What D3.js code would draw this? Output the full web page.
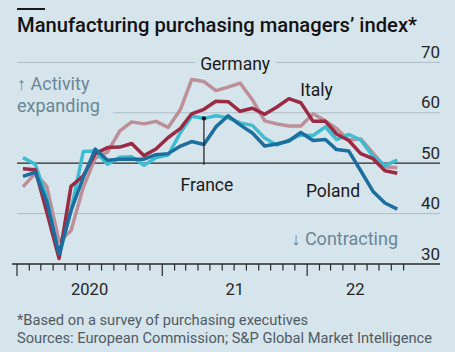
<!DOCTYPE html>
<html><head><meta charset="utf-8">
<script src="https://cdn.jsdelivr.net/npm/d3@7"></script>
<style>
html,body{margin:0;padding:0;background:#d6e4ec;}
svg{display:block;}
text{font-family:Roboto,"Noto Sans",sans-serif;}
</style></head>
<body>
<svg id="c" width="455" height="352"></svg>
<script>
// Monthly data, Jan 2020 – Aug 2022
const startMonth = "2020-01";
const germany = [45.3,48.0,45.4,34.5,36.6,45.2,51.0,52.2,56.4,58.2,57.8,58.3,
                 57.1,60.7,66.6,66.2,64.4,65.1,65.9,62.6,58.4,57.8,57.4,57.4,
                 59.8,58.4,56.9,54.6,54.8,52.0,49.3,49.1];
const italy   = [48.9,48.7,40.3,31.1,45.4,47.5,51.9,53.1,53.2,53.9,51.5,52.8,
                 55.1,56.9,59.8,60.7,62.3,62.2,60.3,60.9,59.7,61.1,62.8,62.0,
                 58.3,58.3,55.8,54.5,51.9,50.9,48.5,48.0];
const france  = [51.1,49.8,43.2,31.5,40.6,52.3,52.4,49.8,51.2,51.3,49.6,51.1,
                 51.6,56.1,59.3,58.9,59.4,59.0,58.0,57.5,55.0,53.6,54.6,55.6,
                 55.5,57.2,54.7,55.7,54.6,51.4,49.5,50.6];
const poland  = [47.4,48.2,42.4,31.9,40.6,47.2,52.8,50.6,50.8,50.8,50.8,51.7,
                 51.9,53.4,54.3,53.7,57.2,59.4,57.6,56.0,53.4,53.8,54.4,56.1,
                 54.5,54.7,52.7,52.4,48.5,44.4,42.1,40.9];
const yTicks = [30,40,50,60,70];
const yearLabels = [{label:"2020", from:"2020-01", to:"2021-01"},
                    {label:"21", from:"2021-01", to:"2022-01"},
                    {label:"22", from:"2022-01", to:"2022-09"}];

const svg = d3.select("#c");
const BG = "#d6e4ec";
const parseM = d3.timeParse("%Y-%m");
const t0 = parseM(startMonth);
const monthDate = i => new Date(t0.getFullYear(), t0.getMonth()+i, 16);

const x = d3.scaleTime().domain([parseM("2020-01"), parseM("2022-09")]).range([17, 403.6]);
const y = d3.scaleLinear().domain([30,70]).range([264, 62.4]);
const gridL = 17, gridR = 440;

// title
svg.append("rect").attr("x",17).attr("y",8).attr("width",28).attr("height",2).attr("fill","#1a1a1a");
svg.append("text").attr("x",17).attr("y",31.5).attr("font-size",20).attr("font-weight",500)
  .attr("fill","#121212").attr("textLength",400).attr("lengthAdjust","spacingAndGlyphs")
  .text("Manufacturing purchasing managers’ index*");

// gridlines
svg.append("g").selectAll("line").data(yTicks.filter(d=>d!==30)).join("line")
  .attr("x1",gridL).attr("x2",gridR).attr("y1",d=>y(d)).attr("y2",d=>y(d))
  .attr("stroke",d=>d===50?"#2a2a2a":"#aebcc5").attr("stroke-width",d=>d===50?1.3:1);

// y labels
svg.append("g").selectAll("text").data(yTicks).join("text")
  .attr("x",gridR).attr("y",d=>y(d)-4.5).attr("text-anchor","end")
  .attr("font-size",17).attr("fill","#262626").text(d=>d);

// x axis
const months = d3.timeMonth.range(parseM("2020-01"), d3.timeMonth.offset(parseM("2022-09"),1));
svg.append("line").attr("x1",12).attr("x2",gridR).attr("y1",y(30)).attr("y2",y(30))
  .attr("stroke","#2a2a2a").attr("stroke-width",1.3);
svg.append("g").selectAll("line").data(months).join("line")
  .attr("x1",d=>x(d)).attr("x2",d=>x(d)).attr("y1",y(30))
  .attr("y2",d=>y(30)+(d.getMonth()===0?12:6.5))
  .attr("stroke","#2a2a2a").attr("stroke-width",1.2);
svg.append("g").selectAll("text").data(yearLabels).join("text")
  .attr("x",d=>(x(parseM(d.from))+x(parseM(d.to)))/2).attr("y",295)
  .attr("text-anchor","middle").attr("font-size",16.5).attr("fill","#262626").text(d=>d.label);

// annotations with background
function label(txt, xx, yy, opts={}){
  const g = svg.append("g");
  const t = g.append("text").attr("x",xx).attr("y",yy).attr("font-size",opts.size||17.5)
    .attr("fill",opts.fill||"#1a1a1a").attr("text-anchor",opts.anchor||"start").text(txt);
  if(opts.bg){
    const b = t.node().getBBox();
    g.insert("rect","text").attr("x",b.x-opts.bg[0]).attr("y",b.y).attr("width",b.width+opts.bg[0]+opts.bg[1])
      .attr("height",b.height).attr("fill",BG);
  }
  return t;
}
label("↑ Activity", 17, y(64.5), {fill:"#6a8796", size:18});
label("expanding", 17, y(60.1), {fill:"#6a8796", size:18, bg:[0,13]});
label("↓ Contracting", 398, y(33.8), {fill:"#6a8796", size:18, anchor:"end"});

// series
const series = [
  {name:"Germany", values:germany, color:"#bc8f99"},
  {name:"France", values:france, color:"#3ebcd2"},
  {name:"Italy", values:italy, color:"#9b2b45"},
  {name:"Poland", values:poland, color:"#1b6e9e"}
];
const line = d3.line().x((d,i)=>x(monthDate(i))).y(d=>y(d));
svg.append("g").selectAll("path").data(series).join("path")
  .attr("d",d=>line(d.values)).attr("fill","none").attr("stroke",d=>d.color)
  .attr("stroke-width",3.5).attr("stroke-linejoin","round").attr("stroke-linecap","butt");

// series labels
label("Germany", x(monthDate(17))+7, y(68.5), {anchor:"middle", bg:[5,5]});
label("Italy", 316.5, y(63.3), {anchor:"middle"});
label("Poland", 333, y(43.2), {anchor:"middle"});
// France leader
const fi = 15;
svg.append("line").attr("x1",x(monthDate(fi))).attr("x2",x(monthDate(fi)))
  .attr("y1",y(france[fi])).attr("y2",y(49.7)).attr("stroke","#1a1a1a").attr("stroke-width",1.2);
svg.append("circle").attr("cx",x(monthDate(fi))).attr("cy",y(france[fi])).attr("r",2.2).attr("fill","#1a1a1a");
label("France", x(monthDate(fi))+3, y(44.5), {anchor:"middle"});

// footnotes
svg.append("text").attr("x",17).attr("y",325).attr("font-size",14.7).attr("fill","#4f5b63")
  .text("*Based on a survey of purchasing executives");
svg.append("text").attr("x",17).attr("y",343).attr("font-size",14.7).attr("fill","#4f5b63")
  .attr("textLength",415).attr("lengthAdjust","spacingAndGlyphs")
  .text("Sources: European Commission; S&P Global Market Intelligence");
</script>
</body></html>
